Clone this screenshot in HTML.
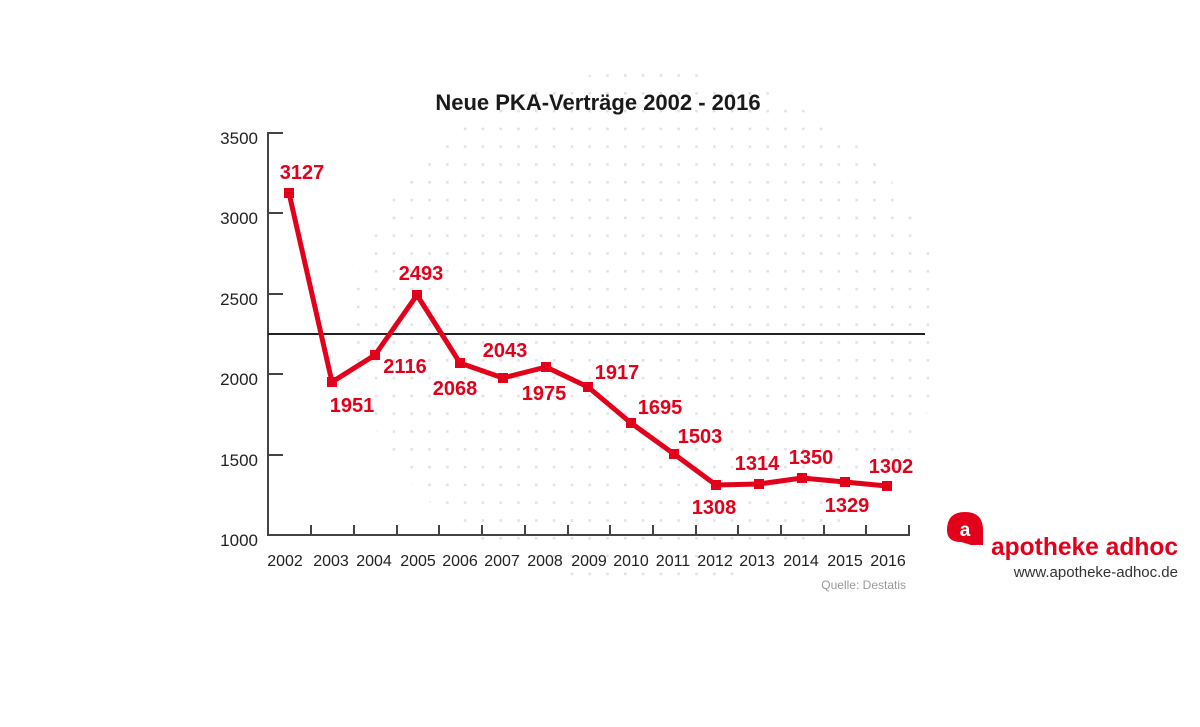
<!DOCTYPE html>
<html><head><meta charset="utf-8"><style>
html,body{margin:0;padding:0;background:#fff}
svg{display:block}
text{font-family:"Liberation Sans",sans-serif}
</style></head><body>
<svg width="1200" height="727" viewBox="0 0 1200 727" xmlns="http://www.w3.org/2000/svg">
<defs>
<pattern id="dots" x="1" y="3" width="17.8" height="17.8" patternUnits="userSpaceOnUse">
<rect x="0" y="0" width="2.6" height="2.6" fill="#e2e2e2"/>
</pattern>
<clipPath id="blob"><ellipse cx="648" cy="328" rx="296" ry="258"/></clipPath>
</defs>
<rect x="0" y="0" width="1200" height="727" fill="url(#dots)" clip-path="url(#blob)"/>
<text x="598" y="110" text-anchor="middle" font-size="22" font-weight="bold" fill="#1a1a1a">Neue PKA-Verträge 2002 - 2016</text>
<g stroke="#444" stroke-width="2" fill="none">
<path d="M283 133H268V535H909V525"/>
<path d="M268 213H283M268 294H283M268 374H283M268 455H283"/>
<path d="M311 535V525M354 535V525M397 535V525M439 535V525M482 535V525M525 535V525M568 535V525M610 535V525M653 535V525M696 535V525M738 535V525M781 535V525M824 535V525M866 535V525"/>
</g>
<line x1="268" y1="334" x2="925" y2="334" stroke="#222" stroke-width="2"/>
<g font-size="17" fill="#222" text-anchor="end">
<text x="258" y="144">3500</text><text x="258" y="224">3000</text><text x="258" y="305">2500</text>
<text x="258" y="385">2000</text><text x="258" y="466">1500</text><text x="258" y="546">1000</text>
</g>
<g font-size="16" fill="#222" text-anchor="middle">
<text x="285" y="566">2002</text><text x="331" y="566">2003</text><text x="374" y="566">2004</text>
<text x="418" y="566">2005</text><text x="460" y="566">2006</text><text x="502" y="566">2007</text>
<text x="545" y="566">2008</text><text x="589" y="566">2009</text><text x="631" y="566">2010</text>
<text x="673" y="566">2011</text><text x="715" y="566">2012</text><text x="757" y="566">2013</text>
<text x="801" y="566">2014</text><text x="845" y="566">2015</text><text x="888" y="566">2016</text>
</g>
<text x="906" y="589" text-anchor="end" font-size="12" fill="#999">Quelle: Destatis</text>
<polyline fill="none" stroke="#e2001a" stroke-width="5" stroke-linejoin="round"
points="289,193 332,382 375,355 417,295 460,363 503,378 546,367 588,387 631,423 674,454 716,485 759,484 802,478 845,482 887,486"/>
<g fill="#e2001a">
<rect x="284" y="188" width="10" height="10"/><rect x="327" y="377" width="10" height="10"/>
<rect x="370" y="350" width="10" height="10"/><rect x="412" y="290" width="10" height="10"/>
<rect x="455" y="358" width="10" height="10"/><rect x="498" y="373" width="10" height="10"/>
<rect x="541" y="362" width="10" height="10"/><rect x="583" y="382" width="10" height="10"/>
<rect x="626" y="418" width="10" height="10"/><rect x="669" y="449" width="10" height="10"/>
<rect x="711" y="480" width="10" height="10"/><rect x="754" y="479" width="10" height="10"/>
<rect x="797" y="473" width="10" height="10"/><rect x="840" y="477" width="10" height="10"/>
<rect x="882" y="481" width="10" height="10"/>
</g>
<g font-size="20" font-weight="bold" fill="#e2001a" text-anchor="middle">
<text x="302" y="179">3127</text><text x="352" y="412">1951</text><text x="405" y="373">2116</text>
<text x="421" y="280">2493</text><text x="455" y="395">2068</text><text x="505" y="357">2043</text>
<text x="544" y="400">1975</text><text x="617" y="379">1917</text><text x="660" y="414">1695</text>
<text x="700" y="443">1503</text><text x="714" y="514">1308</text><text x="757" y="470">1314</text>
<text x="811" y="464">1350</text><text x="847" y="512">1329</text><text x="891" y="473">1302</text>
</g>
<path d="M947 530 Q947 512 965 512 Q983 512 983 530 L983 545 L971 545 Q965 543 961 542 Q947 542 947 530Z" fill="#e2001a"/>
<text x="965" y="536" text-anchor="middle" font-size="19" font-weight="bold" fill="#fff">a</text>
<text x="991" y="555" font-size="25" font-weight="bold" fill="#e2001a" textLength="187" lengthAdjust="spacingAndGlyphs">apotheke adhoc</text>
<text x="1178" y="577" text-anchor="end" font-size="15" fill="#333">www.apotheke-adhoc.de</text>
</svg>
</body></html>
